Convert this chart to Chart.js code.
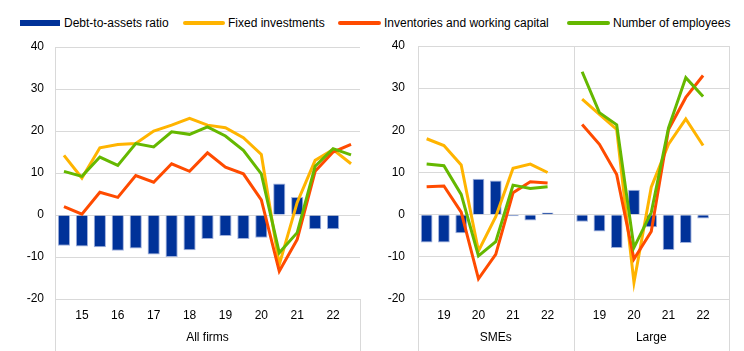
<!DOCTYPE html>
<html>
<head>
<meta charset="utf-8">
<script src="https://cdn.jsdelivr.net/npm/chart.js@4"></script>
<style>
  body { margin: 0; background: #fff; font-family: 'Liberation Sans', Arial, sans-serif; }
  #wrap { position: relative; width: 744px; height: 351px; overflow: hidden; }
  .leg { position: absolute; top: 15px; font-size: 12px; line-height: 16px; color: #000; white-space: nowrap; }
  .sw { position: absolute; }
  .box { position: absolute; top: 0; height: 351px; width: 372px; }
</style>
</head>
<body>
<div id="wrap">
  <div class="sw" style="left:20px; top:20px; width:40px; height:6px; background:#003299;"></div>
  <div class="leg" style="left:64px;">Debt-to-assets ratio</div>
  <div class="sw" style="left:183px; top:21px; width:42px; height:4px; border-radius:2px; background:#FFB400;"></div>
  <div class="leg" style="left:228px;">Fixed investments</div>
  <div class="sw" style="left:338px; top:21px; width:43px; height:4px; border-radius:2px; background:#FF4B00;"></div>
  <div class="leg" style="left:384px;">Inventories and working capital</div>
  <div class="sw" style="left:567px; top:21px; width:43px; height:4px; border-radius:2px; background:#65B800;"></div>
  <div class="leg" style="left:613px;">Number of employees</div>

  <div class="box" style="left:0;"><canvas id="allChart"></canvas></div>
  <div class="box" style="left:372px;"><canvas id="sizeChart"></canvas></div>
</div>

<script>
// ── Data (half-years, percentages) ───────────────────────
const allPeriods = ['14H2','15H1','15H2','16H1','16H2','17H1','17H2','18H1','18H2',
                    '19H1','19H2','20H1','20H2','21H1','21H2','22H1','22H2'];
const allDebt  = [-7.3, -7.5, -7.7, -8.5, -8.0, -9.4, -10.0, -8.4, -5.7, -5.0, -5.7, -5.4, 7.5, 4.3, -3.4, -3.4, -0.1];
const allFixed = [14.2, 8.8, 16.0, 16.8, 17.0, 20.0, 21.4, 23.0, 21.4, 20.8, 18.4, 14.4, -11.8, 3.0, 13.0, 15.6, 12.2];
const allInv   = [2.0, 0.2, 5.4, 4.2, 9.4, 7.8, 12.2, 10.4, 14.8, 11.4, 9.8, 3.6, -13.4, -5.8, 10.4, 15.0, 16.8];
const allEmp   = [10.4, 9.2, 13.8, 11.8, 17.0, 16.2, 19.8, 19.2, 21.0, 18.8, 15.4, 9.8, -9.0, -4.2, 11.6, 15.8, 14.3];

const sizePeriods = ['18H2','19H1','19H2','20H1','20H2','21H1','21H2','22H1','22H2'];
const smeDebt    = [-6.6, -6.6, -4.4, 8.5, 8.1, -0.4, -1.4, 0.5, null];
const smeFixed   = [18.0, 16.4, 11.8, -8.6, -0.5, 11.0, 12.0, 10.0, null];
const smeInv     = [6.6, 6.8, 0.6, -15.2, -9.4, 5.2, 7.8, 7.5, null];
const smeEmp     = [12.0, 11.6, 4.8, -9.8, -6.4, 7.0, 6.2, 6.6, null];
const largeDebt  = [-1.7, -4.0, -7.9, 5.9, -3.0, -8.4, -6.7, -0.9, null];
const largeFixed = [27.4, 23.8, 20.2, -16.1, 6.5, 16.7, 22.7, 16.4, null];
const largeInv   = [21.4, 16.7, 9.5, -10.5, -4.0, 20.2, 27.8, 33.0, null];
const largeEmp   = [33.9, 24.2, 21.3, -7.8, 0.5, 20.6, 32.5, 28.0, null];

const yTicks = [-20, -10, 0, 10, 20, 30, 40];

// ── Colours ──────────────────────────────────────────────
const BLUE   = '#003299';
const YELLOW = '#FFB400';
const RED    = '#FF4B00';
const GREEN  = '#65B800';
const GRID   = '#d9d9d9';

Chart.defaults.font.family = "'Liberation Sans', Arial, sans-serif";
Chart.defaults.font.size = 12;
Chart.defaults.color = '#000';

// year label only on the first half of each year
function yearLabel(p) {
  return p.endsWith('H1') ? p.slice(0, 2) : '';
}

// panel frame lines (edges + divider), extended below the plot
const panelLines = {
  id: 'panelLines',
  beforeDatasetsDraw(chart, args, opts) {
    const { ctx, chartArea } = chart;
    const bottom = chart.height;
    ctx.save();
    ctx.strokeStyle = GRID;
    ctx.lineWidth = 1;
    const lines = [[chartArea.left, chartArea.top], [chartArea.right, opts.fullRight ? chartArea.top : chartArea.bottom]];
    if (opts.mid) lines.push([(chartArea.left + chartArea.right) / 2, chartArea.top]);
    lines.forEach(([x, y0]) => {
      const px = Math.round(x) + 0.5;
      ctx.beginPath();
      ctx.moveTo(px, y0);
      ctx.lineTo(px, bottom);
      ctx.stroke();
    });
    ctx.restore();
  }
};

function makeChart(id, labels, panels, debt, fixed, inv, emp, opt) {
  const lineDs = (label, data, color, order) => ({
    type: 'line', label, data, borderColor: color, backgroundColor: color,
    borderWidth: 3, pointRadius: 0, tension: 0, order
  });
  return new Chart(document.getElementById(id), {
    type: 'bar',
    data: {
      labels: labels,
      datasets: [
        { label: 'Debt-to-assets ratio', data: debt, backgroundColor: BLUE,
          borderColor: '#9fb0dc', borderWidth: 1, barPercentage: 0.68, categoryPercentage: 1, order: 3 },
        lineDs('Fixed investments', fixed, YELLOW, 2),
        lineDs('Inventories and working capital', inv, RED, 1),
        lineDs('Number of employees', emp, GREEN, 0)
      ]
    },
    options: {
      responsive: true,
      maintainAspectRatio: false,
      animation: false,
      layout: { padding: { top: opt.top, right: opt.right, left: 0, bottom: 6 } },
      plugins: {
        legend: { display: false },
        tooltip: { enabled: false },
        panelLines: { mid: opt.mid, fullRight: opt.mid }
      },
      scales: {
        x: {
          grid: { display: false },
          border: { display: false },
          ticks: {
            autoSkip: false, maxRotation: 0, padding: 1,
            callback: function (v, i) { return yearLabel(labels[i]); }
          },
          afterFit: (s) => { s.height = 22; }
        },
        panel: {
          type: 'category',
          position: 'bottom',
          labels: panels,
          offset: true,
          grid: { display: false },
          border: { display: false },
          ticks: { padding: 1, maxRotation: 0 },
          afterFit: (s) => { s.height = 24; }
        },
        y: {
          min: -20, max: 40,
          afterBuildTicks: (s) => { s.ticks = yTicks.map(v => ({ value: v })); },
          grid: { color: GRID, lineWidth: 1, drawTicks: false },
          border: { color: GRID },
          ticks: { padding: opt.tickPad },
          afterFit: (s) => { s.width = opt.yWidth; }
        }
      }
    },
    plugins: [panelLines]
  });
}

makeChart('allChart', allPeriods, ['All firms'], allDebt, allFixed, allInv, allEmp,
  { top: 47, right: 12, yWidth: 55, tickPad: 11, mid: false });

makeChart('sizeChart', sizePeriods.concat(sizePeriods), ['SMEs', 'Large'],
  smeDebt.concat(largeDebt), smeFixed.concat(largeFixed),
  smeInv.concat(largeInv), smeEmp.concat(largeEmp),
  { top: 46, right: 15, yWidth: 46, tickPad: 13, mid: true });
</script>
</body>
</html>
